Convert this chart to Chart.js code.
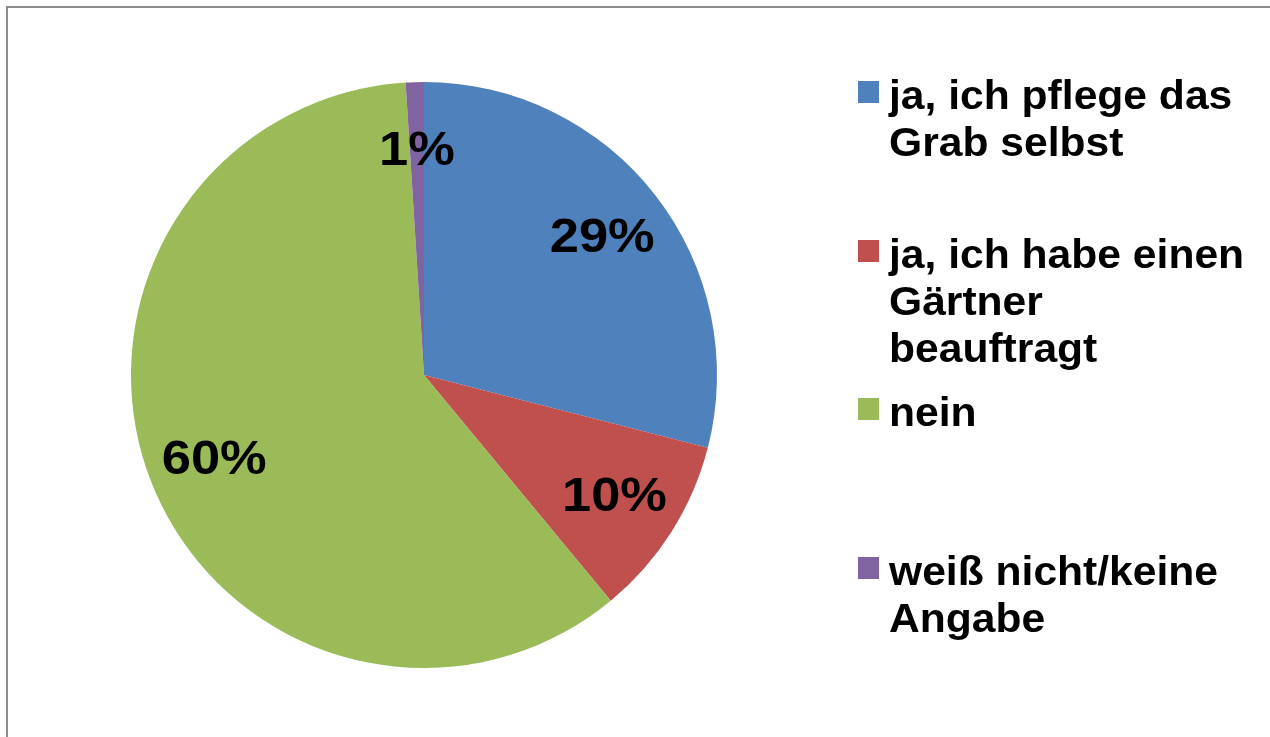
<!DOCTYPE html>
<html>
<head>
<meta charset="utf-8">
<script src="https://cdn.jsdelivr.net/npm/chart.js@4/dist/chart.umd.min.js"></script>
<style>
  html, body {
    margin: 0;
    padding: 0;
    background: #fff;
    overflow: hidden;
  }
  #wrap {
    position: relative;
    width: 1270px;
    height: 737px;
  }
  #frame {
    position: absolute;
    left: 6px;
    top: 6px;
    width: 1300px;
    height: 800px;
    border-top: 2px solid #8c8c8c;
    border-left: 2px solid #8c8c8c;
  }
  canvas {
    position: absolute;
    left: 0;
    top: 0;
  }
  #legend {
    position: absolute;
    left: 0;
    top: 0;
    font-family: "Liberation Sans", Arial, sans-serif;
    font-weight: bold;
    font-size: 40px;
    line-height: 47px;
    color: #000;
  }
  .item {
    position: absolute;
    left: 858px;
    white-space: nowrap;
  }
  .box {
    position: absolute;
    left: 0;
    width: 21px;
    height: 22px;
  }
  .txt {
    position: absolute;
    left: 31px;
    top: -9px;
    transform: scaleX(1.065);
    transform-origin: 0 0;
  }
</style>
</head>
<body>
<div id="wrap">
  <div id="frame"></div>
  <canvas id="pie" width="1270" height="737"></canvas>
  <div id="legend"></div>
</div>
<script>
// categories, each one split into the lines shown in the legend
const labels = [
  ['ja, ich pflege das', 'Grab selbst'],
  ['ja, ich habe einen', 'Gärtner', 'beauftragt'],
  ['nein'],
  ['weiß nicht/keine', 'Angabe']
];
// share in percent
const values = [29, 10, 60, 1];
const colors = ['#4F81BD', '#C0504D', '#9BBB59', '#8064A2'];

// percentage text inside each slice
const sliceLabels = {
  id: 'sliceLabels',
  afterDatasetsDraw(chart) {
    const ctx = chart.ctx;
    const meta = chart.getDatasetMeta(0);
    meta.data.forEach((arc, i) => {
      const p = arc.getProps(['x', 'y', 'startAngle', 'endAngle', 'outerRadius'], true);
      const mid = (p.startAngle + p.endAngle) / 2;
      const r = p.outerRadius * 0.77;
      ctx.save();
      ctx.translate(p.x + Math.cos(mid) * r, p.y + Math.sin(mid) * r + 2);
      ctx.scale(1.07, 1);
      ctx.font = 'bold 49px "Liberation Sans", Arial, sans-serif';
      ctx.fillStyle = '#000';
      ctx.textAlign = 'center';
      ctx.textBaseline = 'middle';
      ctx.fillText(values[i] + '%', 0, 0);
      ctx.restore();
    });
  }
};

const chart = new Chart(document.getElementById('pie'), {
  type: 'pie',
  data: {
    labels: labels.map(l => l.join(' ')),
    datasets: [{
      data: values,
      backgroundColor: colors,
      borderWidth: 0
    }]
  },
  options: {
    responsive: false,
    animation: false,
    layout: {
      padding: { left: 131, right: 553, top: 82, bottom: 69 }
    },
    plugins: {
      legend: { display: false },
      tooltip: { enabled: false }
    }
  },
  plugins: [sliceLabels]
});

// legend on the right, one slot per category
const legend = document.getElementById('legend');
labels.forEach((lines, i) => {
  const item = document.createElement('div');
  item.className = 'item';
  item.style.top = (81 + i * 158.7) + 'px';
  const box = document.createElement('div');
  box.className = 'box';
  box.style.background = colors[i];
  const txt = document.createElement('div');
  txt.className = 'txt';
  txt.innerHTML = lines.join('<br>');
  item.appendChild(box);
  item.appendChild(txt);
  legend.appendChild(item);
});
</script>
</body>
</html>
